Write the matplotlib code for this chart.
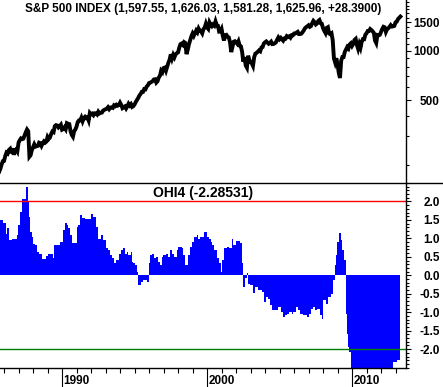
import matplotlib
matplotlib.use("Agg")
import matplotlib.pyplot as plt
import matplotlib.transforms as mtransforms
from matplotlib.lines import Line2D
import numpy as np

# ---------------- data ----------------
price_start_year = 1985 + 8 / 12.0   # Sep 1985, monthly values
price = [
    # 1985 Sep-Dec
    182, 190, 202, 211,
    # 1986
    212, 227, 238, 235, 247, 251, 236, 253, 231, 244, 249, 242,
    # 1987
    274, 284, 291, 288, 290, 304, 318, 330, 322, 225, 230, 247,
    # 1988
    257, 268, 259, 261, 262, 274, 272, 262, 272, 279, 274, 278,
    # 1989
    297, 289, 295, 310, 321, 318, 346, 351, 349, 340, 346, 353,
    # 1990
    329, 332, 340, 331, 361, 358, 356, 323, 306, 298, 322, 330,
    # 1991
    344, 367, 375, 375, 390, 371, 388, 395, 388, 392, 375, 417,
    # 1992
    409, 413, 404, 415, 415, 408, 424, 414, 418, 419, 431, 436,
    # 1993
    439, 443, 452, 440, 450, 451, 448, 464, 459, 468, 462, 466,
    # 1994
    482, 467, 446, 451, 457, 444, 458, 475, 463, 472, 454, 459,
    # 1995
    470, 487, 501, 515, 533, 545, 562, 562, 584, 582, 605, 616,
    # 1996
    636, 640, 646, 654, 669, 671, 640, 652, 687, 705, 757, 741,
    # 1997
    786, 791, 757, 801, 848, 885, 954, 899, 947, 915, 955, 970,
    # 1998
    980, 1049, 1102, 1112, 1091, 1134, 1121, 957, 1017, 1099, 1164, 1229,
    # 1999
    1280, 1238, 1286, 1335, 1302, 1373, 1329, 1320, 1283, 1363, 1389, 1469,
    # 2000
    1394, 1366, 1499, 1452, 1421, 1455, 1431, 1518, 1437, 1429, 1315, 1320,
    # 2001
    1366, 1240, 1160, 1249, 1256, 1224, 1211, 1134, 985, 1060, 1139, 1148,
    # 2002
    1130, 1107, 1147, 1077, 1067, 990, 860, 916, 815, 790, 936, 880,
    # 2003
    856, 841, 810, 917, 964, 975, 990, 1008, 996, 1051, 1058, 1112,
    # 2004
    1131, 1145, 1126, 1107, 1121, 1141, 1102, 1104, 1115, 1130, 1174, 1212,
    # 2005
    1181, 1204, 1181, 1157, 1192, 1191, 1234, 1220, 1229, 1207, 1249, 1248,
    # 2006
    1280, 1281, 1295, 1311, 1270, 1270, 1277, 1304, 1336, 1378, 1401, 1418,
    # 2007
    1438, 1407, 1421, 1482, 1531, 1503, 1455, 1474, 1527, 1549, 1481, 1468,
    # 2008
    1379, 1331, 1290, 1386, 1400, 1280, 1267, 1283, 1165, 900, 850, 903,
    # 2009
    826, 735, 683, 873, 919, 919, 987, 1021, 1057, 1036, 1096, 1115,
    # 2010
    1074, 1104, 1169, 1187, 1089, 1031, 1102, 1049, 1141, 1183, 1181, 1258,
    # 2011
    1286, 1327, 1326, 1364, 1345, 1321, 1292, 1160, 1120, 1253, 1247, 1258,
    # 2012
    1312, 1366, 1408, 1398, 1310, 1362, 1379, 1407, 1441, 1412, 1416, 1426,
    # 2013
    1498, 1515, 1569, 1598, 1626,
]

# OHI4 indicator: step start (year) and value
ohi_year = [
    1985.72, 1985.90, 1986.13, 1986.23, 1986.36, 1986.52, 1986.75, 1986.87, 1986.98,
    1987.10, 1987.21, 1987.33, 1987.51, 1987.63, 1987.74, 1987.81, 1987.90, 1988.02,
    1988.16, 1988.29, 1988.43, 1988.59, 1988.89, 1989.05, 1989.35, 1989.44, 1989.63,
    1989.86, 1990.04, 1990.20, 1990.32, 1990.43, 1990.55, 1990.66, 1991.01, 1991.12,
    1991.24, 1991.40, 1991.58, 1992.00, 1992.16, 1992.34, 1992.50, 1992.69, 1992.85,
    1993.03, 1993.19, 1993.31, 1993.42, 1993.58, 1993.72, 1993.95, 1994.04, 1994.23,
    1994.34, 1994.46, 1994.57, 1994.73, 1994.80, 1994.92, 1995.03, 1995.14, 1995.26,
    1995.44, 1995.60, 1995.83, 1996.00, 1996.06, 1996.23, 1996.36, 1996.46, 1996.59,
    1996.75, 1996.87, 1996.98, 1997.14, 1997.33, 1997.44, 1997.60, 1997.74, 1997.90,
    1998.02, 1998.25, 1998.36, 1998.48, 1998.66, 1998.82, 1998.98, 1999.12, 1999.28,
    1999.40, 1999.51, 1999.67, 1999.81, 1999.97, 2000.13, 2000.27, 2000.36, 2000.50,
    2000.66, 2000.82, 2000.96, 2001.05, 2001.19, 2001.35, 2001.51, 2001.70, 2001.81,
    2001.97, 2002.27, 2002.43, 2002.50, 2002.62, 2002.74, 2002.84, 2002.96, 2003.19,
    2003.30, 2003.53, 2003.76, 2003.93, 2004.06, 2004.22, 2004.34, 2004.50, 2004.91,
    2005.07, 2005.21, 2005.37, 2005.53, 2005.67, 2005.83, 2005.95, 2006.13, 2006.29,
    2006.41, 2006.64, 2006.87, 2007.05, 2007.17, 2007.28, 2007.44, 2007.60, 2007.79,
    2007.90, 2008.02, 2008.20, 2008.36, 2008.52, 2008.66, 2008.82, 2008.89, 2008.98,
    2009.10, 2009.21, 2009.33, 2009.44, 2009.56, 2009.63, 2009.72, 2009.81, 2009.90,
    2010.13, 2012.84, 2013.07,
]
ohi_value = [
    1.51, 1.43, 1.13, 1.27, 0.95, 0.97, 0.99, 1.08, 1.36,
    1.72, 2.06, 2.08, 2.40, 1.99, 1.59, 1.18, 1.04, 0.86,
    0.82, 0.64, 0.59, 0.43, 0.52, 0.59, 0.46, 0.82, 0.82,
    0.91, 1.23, 1.42, 1.36, 1.27, 1.09, 0.87, 1.32, 1.36,
    1.63, 1.54, 1.52, 1.66, 1.59, 1.32, 0.99, 1.09, 0.95,
    0.73, 0.68, 0.55, 0.46, 0.32, 0.41, 0.59, 0.68, 0.73,
    0.59, 0.64, 0.55, 0.64, 0.36, 0.32, 0.28, 0.10, -0.26,
    -0.17, -0.12, -0.17, 0.32, 0.55, 0.59, 0.46, 0.50, 0.37,
    0.28, 0.49, 0.55, 0.59, 0.50, 0.68, 0.59, 0.50, 0.68,
    0.76, 0.73, 0.55, 0.28, 0.55, 0.77, 0.91, 1.04, 1.09,
    0.99, 1.04, 1.03, 1.18, 1.04, 0.99, 0.91, 0.82, 0.68,
    0.46, 0.32, 0.10, 0.41, 0.73, 0.77, 0.73, 0.99, 0.82,
    0.93, 0.87, 0.32, -0.31, -0.07, 0.07, -0.23, -0.27, -0.48,
    -0.32, -0.39, -0.45, -0.72, -0.59, -0.63, -0.81, -0.93, -0.86,
    -0.99, -1.13, -1.08, -1.04, -0.99, -1.04, -0.99, -0.86, -0.95,
    -1.04, -1.08, -1.13, -1.04, -0.90, -0.86, -0.93, -0.90, -1.08,
    -1.17, -0.68, -0.77, -0.59, -0.50, -0.14, 0.27, 0.54, 0.90,
    1.14, 0.95, 0.68, 0.41, -1.04, -1.58, -1.94, -2.07, -2.90,
    -2.90, -2.34, -2.29,
]
ohi_end_year = 2013.30

year_major = [1990, 2000, 2010]
year_minor = list(range(1986, 2014))
price_major = [500, 1000, 1500]
price_minor = [200, 300, 400, 600, 700, 800, 900, 1100, 1200, 1300, 1400,
               1600, 1700, 1800, 1900, 2000]
ohi_ticks = [-2.0, -1.5, -1.0, -0.5, 0.0, 0.5, 1.0, 1.5, 2.0]
ohi_upper, ohi_lower = 2.0, -2.0

title_top = "S&P 500 INDEX (1,597.55, 1,626.03, 1,581.28, 1,625.96, +28.3900)"
title_bottom = "OHI4 (-2.28531)"

# ---------------- figure ----------------
plt.rcParams['font.family'] = ['Liberation Sans', 'DejaVu Sans']
W, H = 443, 387
fig = plt.figure(figsize=(W / 100, H / 100), dpi=100)
PX = 0.72  # points per pixel

ax1 = fig.add_axes([0, (H - 183) / H, 406 / W, 183 / H])
ax2 = fig.add_axes([0, (H - 368) / H, 406 / W, 185 / H])

xlim = (1985.72, 2013.72)

# --- top panel
px = [price_start_year + i / 12.0 for i in range(len(price))]
ax1.plot(px, price, color='black', lw=2.8, solid_joinstyle='miter')
ax1.set_yscale('log')
ax1.set_ylim(155, 2055)
ax1.set_xlim(*xlim)
ax1.yaxis.tick_right()
ax1.yaxis.set_major_locator(matplotlib.ticker.FixedLocator(price_major))
ax1.yaxis.set_minor_locator(matplotlib.ticker.FixedLocator(price_minor))
ax1.yaxis.set_major_formatter(matplotlib.ticker.FuncFormatter(lambda v, p: f"{v:.0f}"))
ax1.yaxis.set_minor_formatter(matplotlib.ticker.NullFormatter())
ax1.tick_params(axis='y', which='major', length=5 * PX, width=0.8, pad=(440 - 406 - 5) * PX,
                labelsize=8.5, right=True, left=False)
ax1.tick_params(axis='y', which='minor', length=3 * PX, width=0.8, right=True, left=False)
ax1.set_xticks([])
for lab in ax1.get_yticklabels():
    lab.set_ha('right')
    lab.set_fontweight('bold')
for s in ['left', 'top', 'bottom']:
    ax1.spines[s].set_visible(False)
ax1.spines['right'].set_linewidth(1)
ax1.text(0.5, 1 - 9 / 183, title_top, transform=ax1.transAxes, ha='center', va='center',
         fontsize=8.5, fontweight='bold')

# --- bottom panel
xs = list(ohi_year) + [ohi_end_year]
vs = list(ohi_value) + [ohi_value[-1]]
ax2.fill_between(xs, vs, 0, step='post', color='#0000FF', lw=0)
ax2.axhline(ohi_upper, color='#FF0000', lw=1)
ax2.axhline(ohi_lower, color='#008000', lw=1)
ax2.set_xlim(*xlim)
ax2.set_ylim(-2.51, 2.49)
ax2.yaxis.tick_right()
ax2.set_yticks(ohi_ticks)
ax2.set_yticks(np.round(np.arange(-2.5, 2.55, 0.1), 2), minor=True)
ax2.set_yticklabels([f"{t:.1f}" for t in ohi_ticks])
ax2.tick_params(axis='y', which='major', length=5 * PX, width=0.8, pad=(440 - 406 - 5) * PX,
                labelsize=8.5, right=True, left=False)
ax2.tick_params(axis='y', which='minor', length=3 * PX, width=0.8, right=True, left=False)
for lab in ax2.get_yticklabels():
    lab.set_ha('right')
    lab.set_fontweight('bold')
ax2.set_xticks(year_major)
ax2.set_xticks(year_minor, minor=True)
ax2.set_xticklabels([])
ax2.tick_params(axis='x', which='major', length=19 * PX, width=0.8, direction='out')
ax2.tick_params(axis='x', which='minor', length=5 * PX, width=0.8, direction='out')
for s in ['left', 'top']:
    ax2.spines[s].set_visible(False)
ax2.spines['right'].set_linewidth(1)
ax2.spines['bottom'].set_linewidth(1)
ax2.text(0.5, 1 - 10 / 185, title_bottom, transform=ax2.transAxes, ha='center', va='center',
         fontsize=10, fontweight='bold')

base = mtransforms.blended_transform_factory(ax2.transData, ax2.transAxes)
for yr in year_major:
    tr = mtransforms.offset_copy(base, fig=fig, x=1.5 * PX, y=-13 * PX, units='points')
    ax2.text(yr, 0, str(yr), transform=tr, ha='left', va='center', fontsize=8.5,
             fontweight='bold', clip_on=False)

# separator line across full width
ysep = (H - 183) / H
fig.add_artist(Line2D([0, 1], [ysep, ysep], transform=fig.transFigure, color='black', lw=1))

fig.savefig('out.png', dpi=100, facecolor='white')
